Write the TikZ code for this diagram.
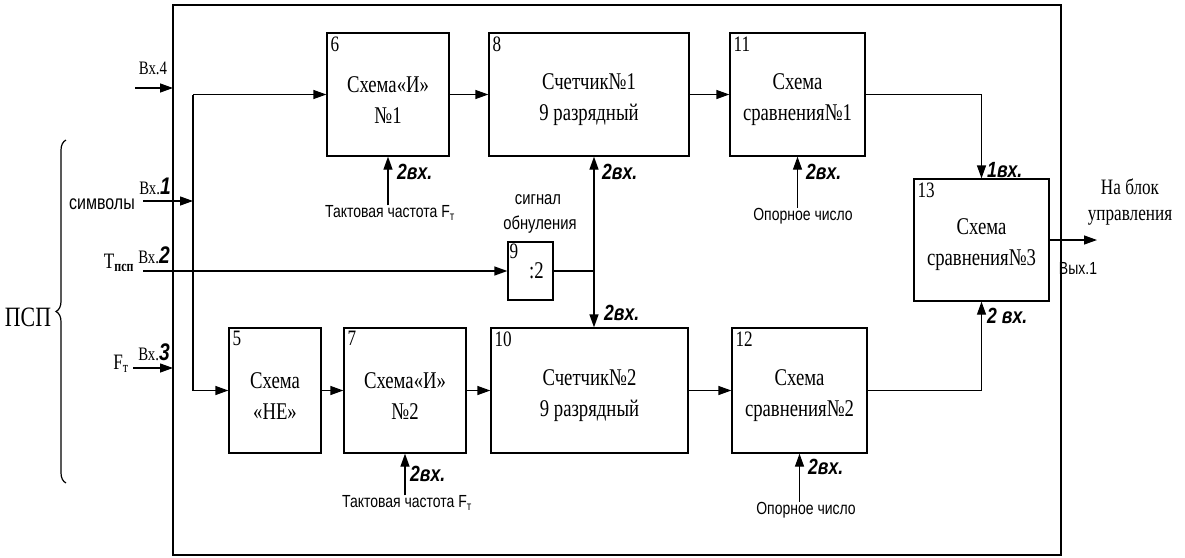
\documentclass[tikz,border=0pt]{standalone}
\usepackage{fontspec}
\setmainfont{Liberation Serif}[FakeStretch=0.78]
\newfontfamily\labelfont{Liberation Sans}[FakeStretch=0.8]
\usetikzlibrary{arrows.meta,decorations.pathreplacing,positioning}

\newcommand{\bignum}[1]{{\labelfont\bfseries\itshape\fontsize{24}{24}\selectfont #1}}

\tikzset{
  blok/.style={draw, line width=1.3pt, inner sep=0pt, align=center,
    font=\fontsize{24}{31}\selectfont},
  nomer/.style={font=\fontsize{22}{22}\selectfont, inner sep=4pt},
  arr/.style={line width=1.3pt, -{Triangle[length=13pt,width=9pt]}},
  provod/.style={line width=1.3pt},
  podpis/.style={font=\labelfont\fontsize{17.5}{20}\selectfont, inner sep=0pt},
  vhod/.style={font=\labelfont\bfseries\itshape\fontsize{22}{24}\selectfont, anchor=west, inner sep=0pt},
  tekst/.style={font=\fontsize{19}{22}\selectfont, inner sep=0pt},
}

\begin{document}
\begin{tikzpicture}[x=1pt,y=-1pt]
\useasboundingbox (0,0) rectangle (1185,557);

% outer frame
\draw[line width=1.8pt] (173,5) rectangle (1061,555);

% upper row
\node[blok, minimum width=122pt, minimum height=123pt,
  label={[nomer, anchor=north west]north west:6}] (n6) at (388,94.5) {\rule{0pt}{26pt}Схема«И»\\№1};
\node[blok, minimum width=200pt, minimum height=123pt,
  label={[nomer, anchor=north west]north west:8}] (n8) at (589,94.5) {\rule{0pt}{26pt}Счетчик№1\\9 разрядный};
\node[blok, minimum width=135pt, minimum height=123pt,
  label={[nomer, anchor=north west]north west:11}] (n11) at (797.5,94.5) {\rule{0pt}{26pt}Схема\\сравнения№1};

% divider
\node[blok, minimum width=45pt, minimum height=58pt,
  label={[nomer, anchor=north west, inner sep=2pt]north west:9}] (n9) at (530.5,271) {\hspace{12pt}:2};

% lower row
\node[blok, minimum width=92pt, minimum height=125pt,
  label={[nomer, anchor=north west]north west:5}] (n5) at (275,390.5) {\rule{0pt}{26pt}Схема\\«НЕ»};
\node[blok, minimum width=122pt, minimum height=125pt,
  label={[nomer, anchor=north west]north west:7}] (n7) at (405,390.5) {\rule{0pt}{26pt}Схема«И»\\№2};
\node[blok, minimum width=197pt, minimum height=125pt,
  label={[nomer, anchor=north west]north west:10}] (n10) at (589.5,390.5) {\rule{0pt}{26pt}Счетчик№2\\9 разрядный};
\node[blok, minimum width=135pt, minimum height=125pt,
  label={[nomer, anchor=north west]north west:12}] (n12) at (799.5,390.5) {\rule{0pt}{26pt}Схема\\сравнения№2};

% final comparator
\node[blok, minimum width=135pt, minimum height=122pt,
  label={[nomer, anchor=north west]north west:13}] (n13) at (981.5,240) {\rule{0pt}{26pt}Схема\\сравнения№3};

% input bus
\coordinate (busTop) at (193,94.5);
\coordinate (busBot) at (193,390.5);
\draw[provod] (busTop) -- (busBot);
\draw[arr] (busTop) -- (n6.west);
\draw[arr] (busBot) -- (n5.west);

% inputs
\coordinate (s4) at (135,88);
\coordinate (e4) at (173,88);
\draw[arr] (s4) -- (e4);
\node[tekst] (lbl4) at (153,68) {Вх.4};

\coordinate (s1) at (143,201);
\coordinate (e1) at (193,201);
\draw[arr] (s1) -- (e1);
\node[tekst] (lbl1) at (155,186) {Вх.\bignum{1}};
\node[font=\labelfont\fontsize{20}{22}\selectfont, inner sep=0pt] (simv) at (102,204) {символы};

\coordinate (s2) at (143,271);
\draw[arr] (s2) -- (n9.west);
\node[tekst] (lbl2) at (154,255) {Вх.\bignum{2}};
\node[font=\fontsize{22}{22}\selectfont, inner sep=0pt] (tpsp) at (119,263) {T\textsubscript{\textbf{псп}}};

\coordinate (s3) at (133,368);
\coordinate (e3) at (173,368);
\draw[arr] (s3) -- (e3);
\node[tekst] (lbl3) at (154,352) {Вх.\bignum{3}};
\node[font=\fontsize{22}{22}\selectfont, inner sep=0pt] (ft) at (121,364) {F\textsubscript{т}};

% brace
\draw[line width=1.2pt, decorate, decoration={brace, amplitude=10pt}] (66,483) -- (66,140);
\node[font=\fontsize{28}{28}\selectfont, inner sep=0pt] (psp) at (28,317) {ПСП};

% chains
\draw[arr] (n6.east) -- (n8.west);
\draw[arr] (n8.east) -- (n11.west);
\draw[arr] (n5.east) -- (n7.west);
\draw[arr] (n7.east) -- (n10.west);
\draw[arr] (n10.east) -- (n12.west);
\draw[arr] (n11.east) -| (n13.north);
\draw[arr] (n12.east) -| (n13.south);
\node[vhod] (v13a) at (987,170) {1вх.};
\node[vhod] (v13b) at (987,316) {2 вх.};

% reset signal
\coordinate (split) at (594,271);
\draw[provod] (n9.east) -- (split);
\draw[arr] (split) -- (split |- n8.south);
\draw[arr] (split) -- (split |- n10.north);
\node[vhod] (v8) at (602,172) {2вх.};
\node[vhod] (v10) at (604,313) {2вх.};
\node[podpis, font=\labelfont\fontsize{18.5}{20}\selectfont] (sig1) at (538,200) {сигнал};
\node[podpis, font=\labelfont\fontsize{18.5}{20}\selectfont] (sig2) at (540,225) {обнуления};

% clock inputs
\node[podpis] (clk6) at (390,213) {Тактовая частота F\textsubscript{т}};
\draw[arr] (clk6.north -| n6.south) -- (n6.south);
\node[vhod] (v6) at (397,172) {2вх.};
\node[podpis] (clk7) at (407,503) {Тактовая частота F\textsubscript{т}};
\draw[arr] (clk7.north -| n7.south) -- (n7.south);
\node[vhod] (v7) at (410,474) {2вх.};

% reference numbers
\node[podpis] (ref11) at (803,216) {Опорное число};
\draw[arr] (ref11.north -| n11.south) -- (n11.south);
\node[vhod] (v11) at (806,172) {2вх.};
\node[podpis] (ref12) at (806,510) {Опорное число};
\draw[arr] (ref12.north -| n12.south) -- (n12.south);
\node[vhod] (v12) at (808,467) {2вх.};

% output
\coordinate (out) at (1097,240);
\draw[arr] (n13.east) -- (out);
\node[font=\fontsize{22}{26}\selectfont, align=center, inner sep=0pt] (nablok) at (1130,202) {На блок\\управления};
\node[podpis] (vyh) at (1078,268) {Вых.1};

\end{tikzpicture}
\end{document}
